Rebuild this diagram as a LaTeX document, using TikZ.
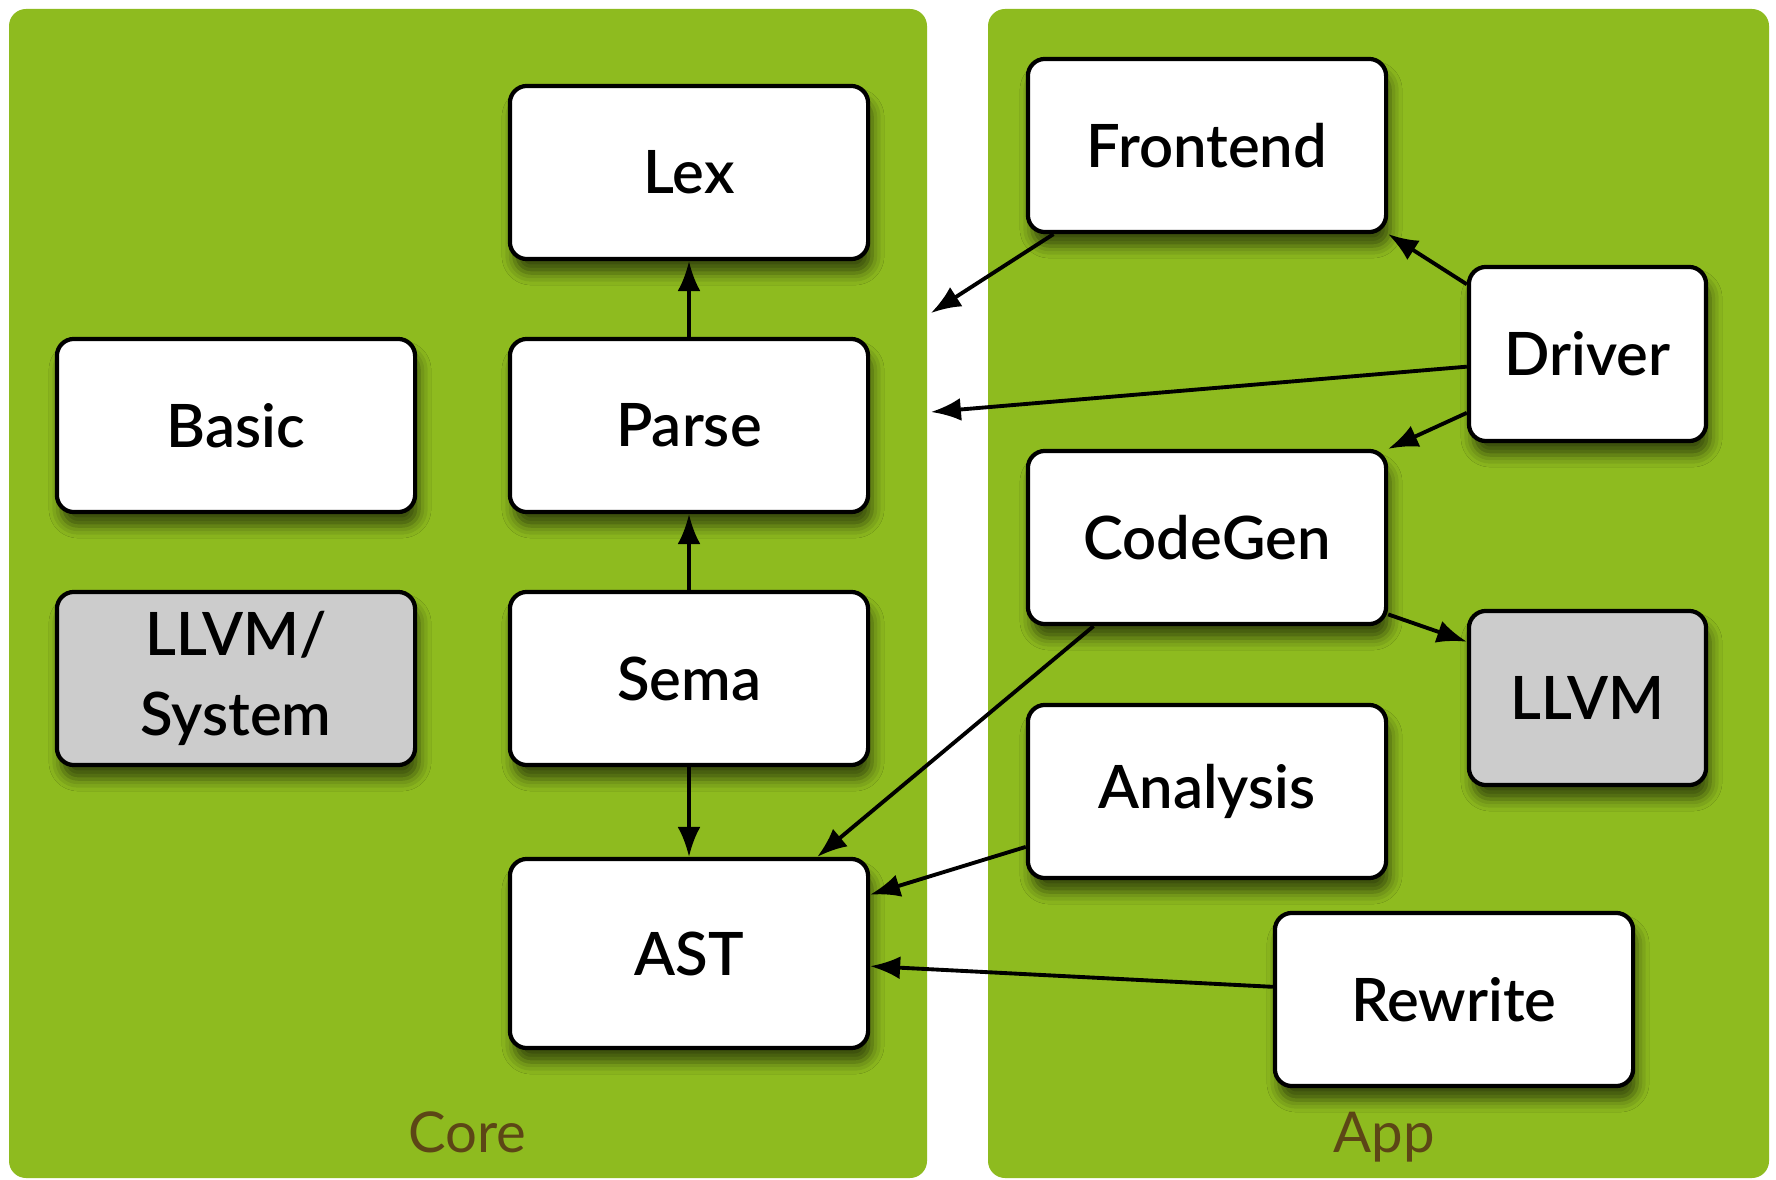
\documentclass[tikz,border=0pt]{standalone}
\usepackage{fontspec}
\setmainfont{Lato}[BoldFont={Lato Semibold}]
\usepackage{tikz}
\usetikzlibrary{arrows.meta}
\usetikzlibrary{shadows.blur}
\definecolor{panelgreen}{RGB}{142,187,31}
\definecolor{labelbrown}{RGB}{92,70,22}
\definecolor{boxgray}{RGB}{204,204,204}
\tikzset{
	panelstyle/.style={fill=panelgreen,rounded corners=0.17cm},
	whitestyle/.style={rectangle,rounded corners=0.17cm,draw=black,line width=1.2pt,fill=white,
		blur shadow={shadow xshift=0.4mm,shadow yshift=-1.4mm,shadow blur radius=1.2mm,shadow opacity=60},
		font=\fontsize{17}{22.5}\selectfont\bfseries,align=center,inner sep=0pt,
		minimum width=3.58cm,minimum height=1.73cm},
	smallstyle/.style={whitestyle,minimum width=2.37cm,minimum height=1.74cm},
	graystyle/.style={fill=boxgray},
	labelstyle/.style={text=labelbrown,font=\fontsize{16}{19}\selectfont,anchor=base},
	arrowstyle/.style={-{Latex[length=8.5pt,width=6.5pt]},line width=1.1pt}
}
\begin{document}
\begin{tikzpicture}[x=0.01cm,y=-0.01cm]
	\useasboundingbox (0,0) rectangle (1776,1180);
	\fill[white] (0,0) rectangle (1776,1180);
	\fill[panelstyle] (9,9) rectangle (927,1178);
	\fill[panelstyle] (988,9) rectangle (1769,1178);
	\node[labelstyle] (corelabel) at (467,1152) {Core};
	\node[labelstyle] (applabel) at (1384,1152) {App};
	% core
	\node[whitestyle] (lex) at (689,172.5) {Lex};
	\node[whitestyle] (basic) at (236,425.5) {Basic};
	\node[whitestyle] (parse) at (689,425.5) {Parse};
	\node[whitestyle,graystyle] (llvmsys) at (236,678.5) {LLVM/\\System};
	\node[whitestyle] (sema) at (689,678.5) {Sema};
	\node[whitestyle,minimum height=1.89cm] (ast) at (689,953.5) {AST};
	% app
	\node[whitestyle] (frontend) at (1207,145.5) {Frontend};
	\node[smallstyle] (driver) at (1587.5,354) {Driver};
	\node[whitestyle] (codegen) at (1207,537.5) {CodeGen};
	\node[smallstyle,graystyle] (llvm) at (1587.5,698) {LLVM};
	\node[whitestyle] (analysis) at (1207,791.5) {Analysis};
	\node[whitestyle] (rewrite) at (1454,999.5) {Rewrite};
	\coordinate (pin1) at (931,313);
	\coordinate (pin2) at (931,412);
	\foreach \a/\b in {parse/lex,sema/parse,sema/ast}
	\draw[arrowstyle] (\a)--(\b);
	\draw[arrowstyle] (frontend.210)--(pin1);
	\draw[arrowstyle] (driver.186)--(pin2);
	\draw[arrowstyle] (driver.150)--(frontend.south east);
	\draw[arrowstyle] (driver.206)--(codegen.north east);
	\draw[arrowstyle] (codegen.-23)--(llvm.155);
	\draw[arrowstyle] (codegen.218)--(ast.37);
	\draw[arrowstyle] (analysis.197)--(ast.18);
	\draw[arrowstyle] (rewrite.176)--(ast.-4);
\end{tikzpicture}
\end{document}
